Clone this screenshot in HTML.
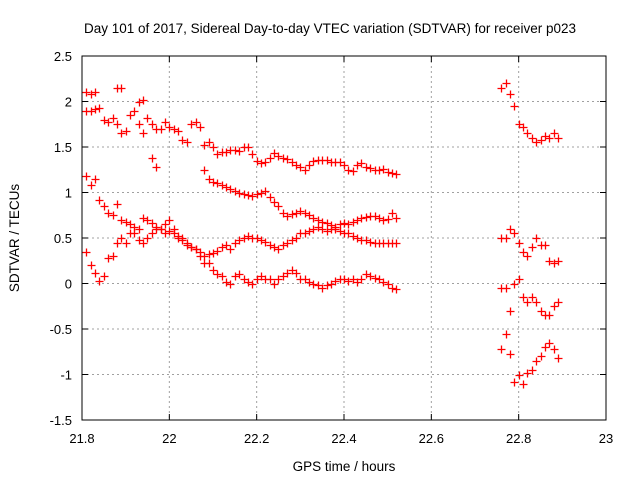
<!DOCTYPE html>
<html><head><meta charset="utf-8"><style>
body{margin:0;background:#fff;}
svg{display:block;font-family:"Liberation Sans",sans-serif;}
</style></head><body>
<svg id="c" width="640" height="480"></svg>
<script>
const xTicks=[21.8,22,22.2,22.4,22.6,22.8,23];
const xTickLabels=["21.8","22","22.2","22.4","22.6","22.8","23"];
const yTicks=[-1.5,-1,-0.5,0,0.5,1,1.5,2,2.5];
const yTickLabels=["-1.5","-1","-0.5","0","0.5","1","1.5","2","2.5"];
const seriesAStart=21.81;
const seriesA=[1.9,1.9,1.92,1.93,1.8,1.78,1.82,1.75,1.65,1.68,1.85,1.9,1.75,1.65,1.82,1.75,1.7,1.7,1.78,1.72,1.7,1.68,1.58,1.55,1.75,1.78,1.72,1.52,1.55,1.5,1.42,1.45,1.45,1.47,1.47,1.46,1.5,1.5,1.42,1.35,1.32,1.33,1.38,1.43,1.4,1.38,1.37,1.33,1.3,1.28,1.25,1.3,1.35,1.36,1.36,1.36,1.34,1.33,1.33,1.3,1.25,1.24,1.3,1.32,1.28,1.27,1.25,1.25,1.26,1.22,1.21,1.2];
const seriesBStart=21.81;
const seriesB=[1.18,1.08,1.15,0.92,0.85,0.78,0.75,0.87,0.7,0.68,0.65,0.62,0.6,0.72,0.7,0.66,0.62,0.6,0.65,0.7,0.55,0.52,0.48,0.45,0.4,0.38,0.35,0.3,0.32,0.34,0.36,0.4,0.42,0.38,0.45,0.48,0.5,0.52,0.5,0.5,0.48,0.46,0.42,0.4,0.38,0.42,0.45,0.48,0.5,0.55,0.56,0.58,0.6,0.62,0.6,0.58,0.6,0.62,0.65,0.66,0.65,0.68,0.7,0.72,0.73,0.74,0.74,0.72,0.7,0.71,0.78,0.72];
const seriesCStart=22.08;
const seriesC=[1.25,1.15,1.12,1.1,1.08,1.06,1.04,1.02,1.0,0.98,0.97,0.96,0.98,1.0,1.02,0.95,0.9,0.85,0.78,0.74,0.76,0.78,0.8,0.78,0.75,0.72,0.7,0.68,0.66,0.64,0.6,0.58,0.55,0.55,0.52,0.5,0.48,0.48,0.46,0.45,0.44,0.45,0.44,0.45,0.44];
const seriesDStart=21.81;
const seriesD=[0.35,0.2,0.12,0.03,0.08,0.28,0.3,0.45,0.5,0.45,0.55,0.55,0.48,0.45,0.5,0.55,0.6,0.6,0.55,0.58,0.6,0.5,0.5,0.42,0.4,0.38,0.3,0.22,0.22,0.15,0.1,0.08,0.02,0.0,0.08,0.1,0.05,0.02,0.0,0.05,0.08,0.05,0.05,0.0,0.05,0.08,0.12,0.15,0.12,0.05,0.05,0.02,0.0,-0.02,-0.05,-0.02,0.0,0.03,0.05,0.05,0.03,0.05,0.02,0.05,0.1,0.08,0.06,0.05,0.02,0.0,-0.05,-0.06];
const seriesETimes=[21.81,21.82,21.83,21.88,21.89,21.93,21.94,21.96,21.97];
const seriesE=[2.1,2.08,2.1,2.15,2.15,2.0,2.02,1.38,1.28];
const rightStart=22.76;
const seriesR1=[2.15,2.2,2.08,1.95,1.75,1.72,1.65,1.6,1.55,1.58,1.62,1.6,1.65,1.6];
const seriesR2=[0.5,0.5,0.6,0.55,0.45,0.35,0.3,0.4,0.5,0.42,0.42,0.25,0.22,0.25];
const seriesR3=[-0.05,-0.05,-0.3,0.0,0.05,-0.15,-0.2,-0.15,-0.2,-0.3,-0.35,-0.35,-0.25,-0.2];
const seriesR4=[-0.72,-0.55,-0.78,-1.08,-1.0,-1.1,-0.98,-0.95,-0.85,-0.8,-0.7,-0.65,-0.72,-0.82];

const L=82,R=606,T=56,B=420;
const X=v=>L+(v-21.8)/1.2*(R-L);
const Y=v=>B-(v+1.5)/4*(B-T);
const svg=document.getElementById('c');
const NS='http://www.w3.org/2000/svg';
function mk(tag,at){const e=document.createElementNS(NS,tag);for(const k in at)e.setAttribute(k,at[k]);svg.appendChild(e);return e;}

xTicks.forEach((t,i)=>{
 if(i>0&&i<xTicks.length-1){const g=mk('line',{x1:X(t),x2:X(t),y1:T,y2:B,stroke:'#a0a0a0','stroke-dasharray':'2,3'});
 
 }
 const a=mk('line',{x1:X(t),x2:X(t),y1:B,y2:B-6,stroke:'#000'});
 
 
 const b=mk('line',{x1:X(t),x2:X(t),y1:T,y2:T+6,stroke:'#000'});
 
 
 const tx=mk('text',{x:X(t),y:443,'text-anchor':'middle','font-size':13});
 tx.textContent=xTickLabels[i];
 
 
});
yTicks.forEach((t,i)=>{
 if(i>0&&i<yTicks.length-1){const g=mk('line',{x1:L,x2:R,y1:Y(t),y2:Y(t),stroke:'#a0a0a0','stroke-dasharray':'2,3'});
 
 }
 const a=mk('line',{x1:L,x2:L+6,y1:Y(t),y2:Y(t),stroke:'#000'});
 
 
 const b=mk('line',{x1:R,x2:R-6,y1:Y(t),y2:Y(t),stroke:'#000'});
 
 
 const tx=mk('text',{x:72,y:Y(t)+5,'text-anchor':'end','font-size':13});
 tx.textContent=yTickLabels[i];
 
 
});
const fr=mk('rect',{x:L,y:T,width:R-L,height:B-T,fill:'none',stroke:'#000'});



function plus(x,y,col,name){
 x=Math.round(x)+0.5;y=Math.round(y)+0.5;
 const p=mk('path',{d:`M${x-4} ${y}H${x+4}M${x} ${y-4}V${y+4}`,stroke:col,'stroke-width':1.3,fill:'none'});
 
 
}
function drawSeries(start,vals,name){
 vals.forEach((v,i)=>{const t=start+i*0.01;plus(X(t),Y(v),'#ff0000',name+'-point');});
}
drawSeries(seriesAStart,seriesA,'series-a');
drawSeries(seriesBStart,seriesB,'series-b');
drawSeries(seriesCStart,seriesC,'series-c');
drawSeries(seriesDStart,seriesD,'series-d');
seriesE.forEach((v,i)=>{plus(X(seriesETimes[i]),Y(v),'#ff0000','series-e-point');});
drawSeries(rightStart,seriesR1,'series-r1');
drawSeries(rightStart,seriesR2,'series-r2');
drawSeries(rightStart,seriesR3,'series-r3');
drawSeries(rightStart,seriesR4,'series-r4');

const ti=mk('text',{x:330,y:33,'text-anchor':'middle','font-size':13.5});
ti.textContent='Day 101 of 2017, Sidereal Day-to-day VTEC variation (SDTVAR) for receiver p023';


const xl=mk('text',{x:344,y:471,'text-anchor':'middle','font-size':13.5});
xl.textContent='GPS time / hours';


const yl=mk('text',{x:0,y:0,'text-anchor':'middle','font-size':13.5,transform:'translate(19,238) rotate(-90)'});
yl.textContent='SDTVAR / TECUs';


</script>
</body></html>
